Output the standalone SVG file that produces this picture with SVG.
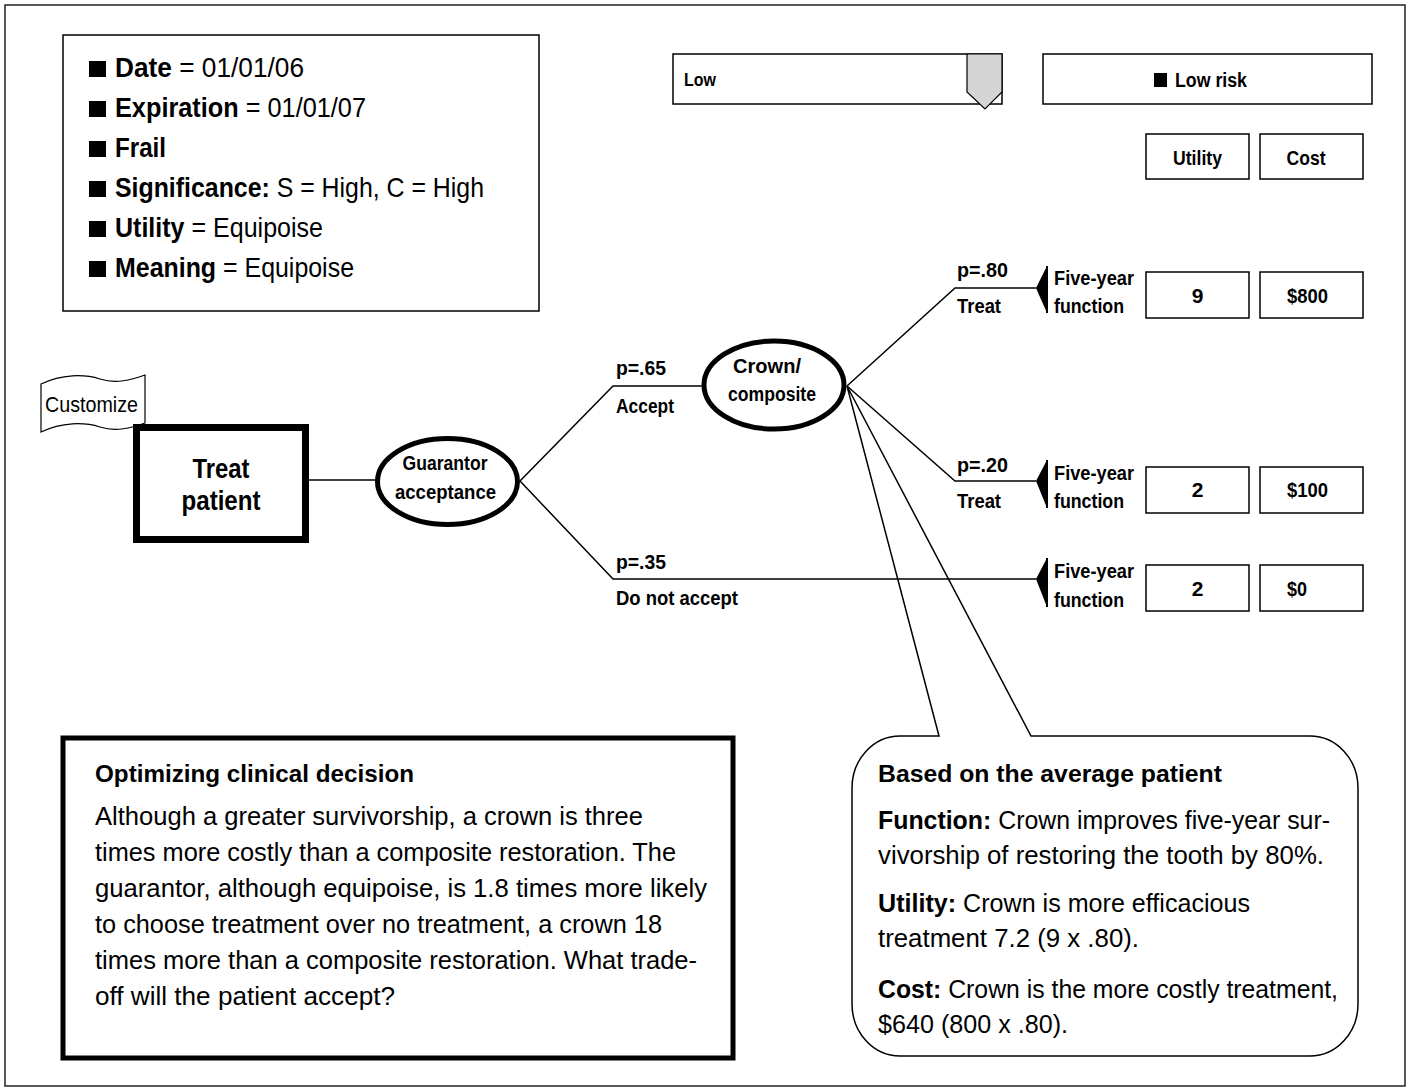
<svg xmlns="http://www.w3.org/2000/svg" width="1410" height="1091" viewBox="0 0 1410 1091">
<style>
.t{font-family:"Liberation Sans Narrow","Liberation Sans",Arial,sans-serif;fill:#000}
.b{font-weight:bold}
.n{font-weight:normal}
.box{fill:#fff;stroke:#000;stroke-width:1.5}
.ln{fill:none;stroke:#000;stroke-width:1.5}
.lbl{font-size:20px;font-weight:bold}
.val{font-size:21px;font-weight:bold}
.body{font-size:25px}
.tl{font-size:27.5px}
.tri{fill:#000}
</style>
<rect x="0" y="0" width="1410" height="1091" fill="#fff"/>
<rect x="5" y="5" width="1400" height="1081" fill="none" stroke="#222" stroke-width="1.5"/>

<g id="info-box">
<rect class="box" x="63" y="35" width="476" height="276"/>
<rect x="89" y="61" width="17" height="16"/>
<text class="t tl" x="115" y="77" textLength="189" lengthAdjust="spacingAndGlyphs"><tspan class="b">Date</tspan> = 01/01/06</text>
<rect x="89" y="101" width="17" height="16"/>
<text class="t tl" x="115" y="117" textLength="251" lengthAdjust="spacingAndGlyphs"><tspan class="b">Expiration</tspan> = 01/01/07</text>
<rect x="89" y="141" width="17" height="16"/>
<text class="t tl b" x="115" y="157" textLength="51" lengthAdjust="spacingAndGlyphs">Frail</text>
<rect x="89" y="181" width="17" height="16"/>
<text class="t tl" x="115" y="197" textLength="369" lengthAdjust="spacingAndGlyphs"><tspan class="b">Significance:</tspan> S = High, C = High</text>
<rect x="89" y="221" width="17" height="16"/>
<text class="t tl" x="115" y="237" textLength="208" lengthAdjust="spacingAndGlyphs"><tspan class="b">Utility</tspan> = Equipoise</text>
<rect x="89" y="261" width="17" height="16"/>
<text class="t tl" x="115" y="277" textLength="239" lengthAdjust="spacingAndGlyphs"><tspan class="b">Meaning</tspan> = Equipoise</text>
</g>

<g id="slider">
<rect class="box" x="673" y="54" width="329" height="50"/>
<path d="M967,54 L1002,54 L1002,92 L985,109 L967,92 Z" fill="#d4d4d4" stroke="#000" stroke-width="1.2"/>
<text class="t b" x="684" y="86" font-size="19" textLength="32" lengthAdjust="spacingAndGlyphs">Low</text>
</g>

<g id="risk-box">
<rect class="box" x="1043" y="54" width="329" height="50"/>
<rect x="1154" y="73" width="13" height="14"/>
<text class="t b" x="1175" y="87" font-size="20" textLength="72" lengthAdjust="spacingAndGlyphs">Low risk</text>
</g>

<g id="utility-header">
<rect class="box" x="1146" y="134" width="103" height="45"/>
<text class="t b" x="1197.5" y="165" font-size="21" text-anchor="middle" textLength="49" lengthAdjust="spacingAndGlyphs">Utility</text>
</g>
<g id="cost-header">
<rect class="box" x="1260" y="134" width="103" height="45"/>
<text class="t b" x="1306" y="165" font-size="21" text-anchor="middle" textLength="39" lengthAdjust="spacingAndGlyphs">Cost</text>
</g>

<g id="connectors">
<line class="ln" x1="309" y1="480" x2="376" y2="480"/>
<polyline class="ln" points="520,481 613,386 702,386"/>
<polyline class="ln" points="520,481 613,579 1036,579"/>
<polyline class="ln" points="847,386 955,288 1036,288"/>
<polyline class="ln" points="847,386 955,481 1036,481"/>
</g>

<g id="customize-flag">
<path d="M41,384 C62,374 84,374 100,379 C116,384 131,380 145,375 L145,423 C131,428 116,432 100,427 C84,422 62,422 41,432 Z" fill="#fff" stroke="#000" stroke-width="1.2"/>
<text class="t n" x="45" y="412" font-size="22" textLength="93" lengthAdjust="spacingAndGlyphs">Customize</text>
</g>

<g id="treat-patient">
<rect x="136.5" y="427.5" width="169" height="112" fill="#fff" stroke="#000" stroke-width="7"/>
<text class="t b" x="221" y="478" font-size="27.5" text-anchor="middle" textLength="57" lengthAdjust="spacingAndGlyphs">Treat</text>
<text class="t b" x="221" y="510" font-size="27.5" text-anchor="middle" textLength="79" lengthAdjust="spacingAndGlyphs">patient</text>
</g>

<g id="guarantor-acceptance">
<ellipse cx="447.5" cy="481.5" rx="70" ry="43" fill="#fff" stroke="#000" stroke-width="5"/>
<text class="t b" x="445" y="470" font-size="19.5" text-anchor="middle" textLength="85" lengthAdjust="spacingAndGlyphs">Guarantor</text>
<text class="t b" x="445.5" y="499" font-size="19.5" text-anchor="middle" textLength="101" lengthAdjust="spacingAndGlyphs">acceptance</text>
</g>

<g id="crown-composite">
<ellipse cx="774" cy="385" rx="70" ry="44" fill="#fff" stroke="#000" stroke-width="5"/>
<text class="t b" x="767" y="373" font-size="19.5" text-anchor="middle" textLength="68" lengthAdjust="spacingAndGlyphs">Crown/</text>
<text class="t b" x="772" y="401" font-size="19.5" text-anchor="middle" textLength="88" lengthAdjust="spacingAndGlyphs">composite</text>
</g>

<g id="branch-labels">
<text class="t lbl" x="616" y="375" textLength="50" lengthAdjust="spacingAndGlyphs">p=.65</text>
<text class="t lbl" x="616" y="413" textLength="58" lengthAdjust="spacingAndGlyphs">Accept</text>
<text class="t lbl" x="616" y="569" textLength="50" lengthAdjust="spacingAndGlyphs">p=.35</text>
<text class="t lbl" x="616" y="605" textLength="122" lengthAdjust="spacingAndGlyphs">Do not accept</text>
<text class="t lbl" x="957" y="277" textLength="51" lengthAdjust="spacingAndGlyphs">p=.80</text>
<text class="t lbl" x="957" y="313" textLength="44" lengthAdjust="spacingAndGlyphs">Treat</text>
<text class="t lbl" x="957" y="472" textLength="51" lengthAdjust="spacingAndGlyphs">p=.20</text>
<text class="t lbl" x="957" y="508" textLength="44" lengthAdjust="spacingAndGlyphs">Treat</text>
</g>

<g id="outcome-1">
<polygon class="tri" points="1047,266 1036,288 1047,313"/>
<line x1="1047" y1="266" x2="1047" y2="313" stroke="#000" stroke-width="2"/>
<text class="t lbl" x="1054" y="285" textLength="80" lengthAdjust="spacingAndGlyphs">Five-year</text>
<text class="t lbl" x="1054" y="313" textLength="70" lengthAdjust="spacingAndGlyphs">function</text>
<rect class="box" x="1146" y="272" width="103" height="46"/>
<text class="t val" x="1197.5" y="303" text-anchor="middle">9</text>
<rect class="box" x="1260" y="272" width="103" height="46"/>
<text class="t val" x="1287" y="303" textLength="41" lengthAdjust="spacingAndGlyphs">$800</text>
</g>

<g id="outcome-2">
<polygon class="tri" points="1047,460 1036,481 1047,508"/>
<line x1="1047" y1="460" x2="1047" y2="508" stroke="#000" stroke-width="2"/>
<text class="t lbl" x="1054" y="480" textLength="80" lengthAdjust="spacingAndGlyphs">Five-year</text>
<text class="t lbl" x="1054" y="508" textLength="70" lengthAdjust="spacingAndGlyphs">function</text>
<rect class="box" x="1146" y="467" width="103" height="46"/>
<text class="t val" x="1197.5" y="497" text-anchor="middle">2</text>
<rect class="box" x="1260" y="467" width="103" height="46"/>
<text class="t val" x="1287" y="497" textLength="41" lengthAdjust="spacingAndGlyphs">$100</text>
</g>

<g id="outcome-3">
<polygon class="tri" points="1047,558 1036,579 1047,607"/>
<line x1="1047" y1="558" x2="1047" y2="607" stroke="#000" stroke-width="2"/>
<text class="t lbl" x="1054" y="578" textLength="80" lengthAdjust="spacingAndGlyphs">Five-year</text>
<text class="t lbl" x="1054" y="607" textLength="70" lengthAdjust="spacingAndGlyphs">function</text>
<rect class="box" x="1146" y="565" width="103" height="46"/>
<text class="t val" x="1197.5" y="596" text-anchor="middle">2</text>
<rect class="box" x="1260" y="565" width="103" height="46"/>
<text class="t val" x="1287" y="596" textLength="20" lengthAdjust="spacingAndGlyphs">$0</text>
</g>

<g id="optimizing-box">
<rect x="63" y="738" width="670" height="320" fill="#fff" stroke="#000" stroke-width="5"/>
<text class="t b" x="95" y="782" font-size="24.5" textLength="319" lengthAdjust="spacingAndGlyphs">Optimizing clinical decision</text>
<text class="t body" x="95" y="825" textLength="548" lengthAdjust="spacingAndGlyphs">Although a greater survivorship, a crown is three</text>
<text class="t body" x="95" y="861" textLength="581" lengthAdjust="spacingAndGlyphs">times more costly than a composite restoration. The</text>
<text class="t body" x="95" y="897" textLength="612" lengthAdjust="spacingAndGlyphs">guarantor, although equipoise, is 1.8 times more likely</text>
<text class="t body" x="95" y="933" textLength="567" lengthAdjust="spacingAndGlyphs">to choose treatment over no treatment, a crown 18</text>
<text class="t body" x="95" y="969" textLength="602" lengthAdjust="spacingAndGlyphs">times more than a composite restoration. What trade-</text>
<text class="t body" x="95" y="1005" textLength="300" lengthAdjust="spacingAndGlyphs">off will the patient accept?</text>
</g>

<g id="average-patient-callout">
<path d="M939,736 L847,386 L1031,736 L1310,736 A48,52 0 0 1 1358,788 L1358,1004 A48,52 0 0 1 1310,1056 L900,1056 A48,52 0 0 1 852,1004 L852,788 A48,52 0 0 1 900,736 Z" fill="none" stroke="#000" stroke-width="1.5" stroke-linejoin="miter"/>
<text class="t b" x="878" y="782" font-size="24.5" textLength="344" lengthAdjust="spacingAndGlyphs">Based on the average patient</text>
<text class="t body" x="878" y="829" textLength="452" lengthAdjust="spacingAndGlyphs"><tspan class="b">Function:</tspan> Crown improves five-year sur-</text>
<text class="t body" x="878" y="864" textLength="446" lengthAdjust="spacingAndGlyphs">vivorship of restoring the tooth by 80%.</text>
<text class="t body" x="878" y="912" textLength="372" lengthAdjust="spacingAndGlyphs"><tspan class="b">Utility:</tspan> Crown is more efficacious</text>
<text class="t body" x="878" y="947" textLength="261" lengthAdjust="spacingAndGlyphs">treatment 7.2 (9 x .80).</text>
<text class="t body" x="878" y="998" textLength="460" lengthAdjust="spacingAndGlyphs"><tspan class="b">Cost:</tspan> Crown is the more costly treatment,</text>
<text class="t body" x="878" y="1033" textLength="190" lengthAdjust="spacingAndGlyphs">$640 (800 x .80).</text>
</g>
</svg>
